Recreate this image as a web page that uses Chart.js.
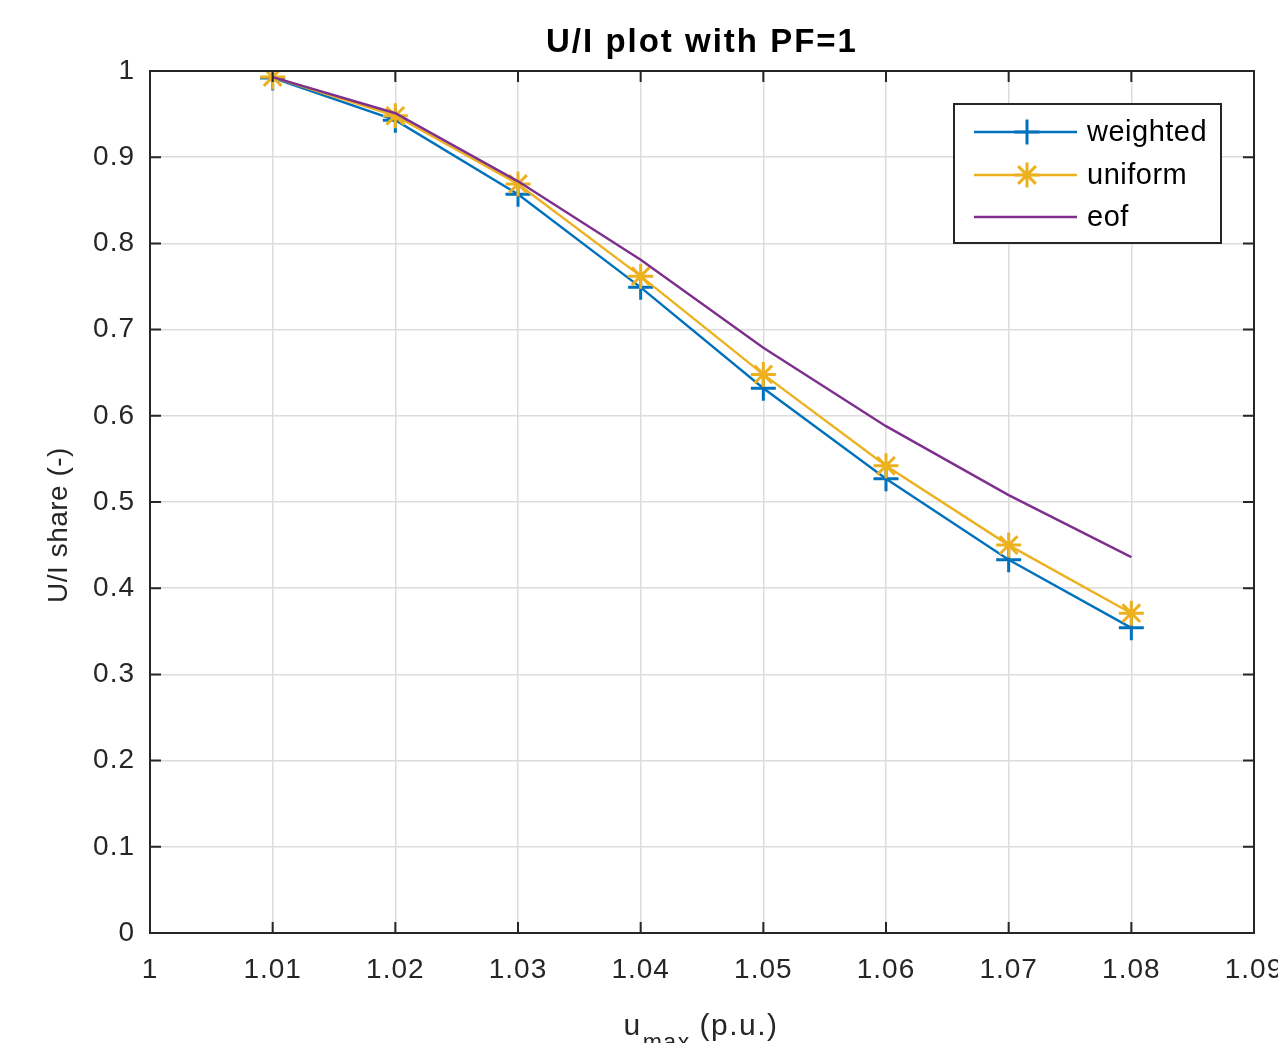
<!DOCTYPE html>
<html>
<head>
<meta charset="utf-8">
<script src="https://cdn.jsdelivr.net/npm/chart.js@4.4.1/dist/chart.umd.min.js"></script>
<style>
  html, body { margin: 0; padding: 0; background: #fff; overflow: hidden; }
</style>
</head>
<body>
<canvas id="uiChart" width="1278" height="1043"></canvas>
<script>
// data
const uMax = [1.01, 1.02, 1.03, 1.04, 1.05, 1.06, 1.07, 1.08];
const weighted = [0.992, 0.943, 0.857, 0.749, 0.632, 0.527, 0.433, 0.354];
const uniform = [0.993, 0.948, 0.869, 0.762, 0.648, 0.542, 0.450, 0.371];
const eof = [0.993, 0.951, 0.872, 0.781, 0.679, 0.588, 0.508, 0.436];

const xTickLabels = ['1', '1.01', '1.02', '1.03', '1.04', '1.05', '1.06', '1.07', '1.08', '1.09'];
const yTickLabels = ['0', '0.1', '0.2', '0.3', '0.4', '0.5', '0.6', '0.7', '0.8', '0.9', '1'];

const FONT = "'Liberation Sans', Arial, Helvetica, sans-serif";
const AX = '#262626';

const toPoints = ys => uMax.map((x, i) => ({ x: x, y: ys[i] }));

// box, inward ticks, titles and legend in MATLAB style
const matlabFrame = {
    id: 'matlabFrame',
    beforeDraw(chart) {
        chart.ctx.letterSpacing = '1px';
    },
    afterDraw(chart) {
        const { ctx, chartArea: a, scales } = chart;
        const x = scales.x, y = scales.y;
        ctx.save();

        // ticks pointing inwards on all four sides
        ctx.strokeStyle = AX;
        ctx.lineWidth = 2;
        ctx.beginPath();
        x.ticks.forEach(t => {
            const px = x.getPixelForValue(t.value);
            ctx.moveTo(px, a.bottom); ctx.lineTo(px, a.bottom - 11);
            ctx.moveTo(px, a.top); ctx.lineTo(px, a.top + 11);
        });
        y.ticks.forEach(t => {
            const py = y.getPixelForValue(t.value);
            ctx.moveTo(a.left, py); ctx.lineTo(a.left + 11, py);
            ctx.moveTo(a.right, py); ctx.lineTo(a.right - 11, py);
        });
        ctx.stroke();
        ctx.strokeRect(a.left, a.top, a.right - a.left, a.bottom - a.top);

        // title
        ctx.fillStyle = '#000';
        ctx.letterSpacing = '2px';
        ctx.font = 'bold 33px ' + FONT;
        ctx.textAlign = 'center';
        ctx.textBaseline = 'alphabetic';
        ctx.fillText('U/I plot with PF=1', (a.left + a.right) / 2, 52);

        // y title
        ctx.fillStyle = AX;
        ctx.letterSpacing = '0.5px';
        ctx.font = '28px ' + FONT;
        ctx.save();
        ctx.translate(67, 525);
        ctx.rotate(-Math.PI / 2);
        ctx.fillText('U/I share (-)', 0, 0);
        ctx.restore();

        // x title with subscript
        ctx.textAlign = 'left';
        ctx.letterSpacing = '1.5px';
        const mainFont = '30px ' + FONT, subFont = '23px ' + FONT;
        ctx.font = mainFont;
        const wU = ctx.measureText('u').width;
        const wRest = ctx.measureText(' (p.u.)').width;
        ctx.font = subFont;
        const wSub = ctx.measureText('max').width;
        let sx = 701 - (wU + wSub + wRest) / 2;
        ctx.font = mainFont;
        ctx.fillText('u', sx, 1035);
        ctx.font = subFont;
        ctx.fillText('max', sx + wU + 1, 1050);
        ctx.font = mainFont;
        ctx.fillText(' (p.u.)', sx + wU + wSub, 1035);

        // legend
        const lx = 954, ly = 104, lw = 267, lh = 139;
        ctx.fillStyle = '#fff';
        ctx.fillRect(lx, ly, lw, lh);
        ctx.strokeStyle = AX;
        ctx.lineWidth = 2;
        ctx.strokeRect(lx, ly, lw, lh);
        const rows = [132, 175, 217];
        chart.data.datasets.forEach((ds, i) => {
            const ry = rows[i];
            ctx.strokeStyle = ds.borderColor;
            ctx.lineWidth = ds.borderWidth;
            ctx.beginPath();
            ctx.moveTo(974, ry); ctx.lineTo(1077, ry);
            ctx.stroke();
            if (ds.pointRadius > 0) {
                ctx.lineWidth = ds.pointBorderWidth;
                ctx.fillStyle = ds.borderColor;
                Chart.helpers.drawPoint(ctx, {
                    pointStyle: ds.pointStyle, radius: ds.pointRadius,
                    borderWidth: ds.pointBorderWidth, rotation: 0
                }, 1027, ry);
            }
            ctx.fillStyle = '#000';
            ctx.letterSpacing = '0.5px';
            ctx.font = '29px ' + FONT;
            ctx.textBaseline = 'middle';
            ctx.fillText(ds.label, 1087, ry + 1);
        });

        ctx.restore();
    }
};

new Chart(document.getElementById('uiChart'), {
    type: 'line',
    data: {
        datasets: [
            {
                label: 'weighted',
                data: toPoints(weighted),
                borderColor: '#0072BD',
                backgroundColor: '#0072BD',
                borderWidth: 2.4,
                pointStyle: 'cross',
                pointRadius: 12.5,
                pointBorderWidth: 3,
                pointBorderColor: '#0072BD',
                order: 2
            },
            {
                label: 'uniform',
                data: toPoints(uniform),
                borderColor: '#EDB120',
                backgroundColor: '#EDB120',
                borderWidth: 2.4,
                pointStyle: 'star',
                pointRadius: 12.5,
                pointBorderWidth: 3,
                pointBorderColor: '#EDB120',
                order: 1
            },
            {
                label: 'eof',
                data: toPoints(eof),
                borderColor: '#7E2F8E',
                backgroundColor: '#7E2F8E',
                borderWidth: 2.4,
                pointRadius: 0,
                order: 0
            }
        ]
    },
    options: {
        responsive: false,
        devicePixelRatio: 1,
        animation: false,
        layout: { padding: { top: 71, right: 24, bottom: 0, left: 0 } },
        elements: { line: { tension: 0, fill: false } },
        plugins: {
            legend: { display: false },
            tooltip: { enabled: false },
            title: { display: false }
        },
        scales: {
            x: {
                type: 'linear',
                min: 1,
                max: 1.09,
                grid: { color: '#dcdcdc', lineWidth: 1.5, drawTicks: false },
                border: { display: false },
                ticks: {
                    stepSize: 0.01,
                    autoSkip: false,
                    maxRotation: 0,
                    padding: 20,
                    color: AX,
                    font: { family: FONT, size: 28 },
                    callback: (v, i) => xTickLabels[i]
                },
                afterFit(s) { s.height = 110; s.paddingLeft = 0; s.paddingRight = 0; }
            },
            y: {
                min: 0,
                max: 1,
                grid: { color: '#dcdcdc', lineWidth: 1.5, drawTicks: false },
                border: { display: false },
                ticks: {
                    stepSize: 0.1,
                    padding: 15,
                    color: AX,
                    font: { family: FONT, size: 28 },
                    callback: (v, i) => yTickLabels[i]
                },
                afterFit(s) { s.width = 150; s.paddingTop = 0; s.paddingBottom = 0; }
            }
        }
    },
    plugins: [matlabFrame]
});
</script>
</body>
</html>
